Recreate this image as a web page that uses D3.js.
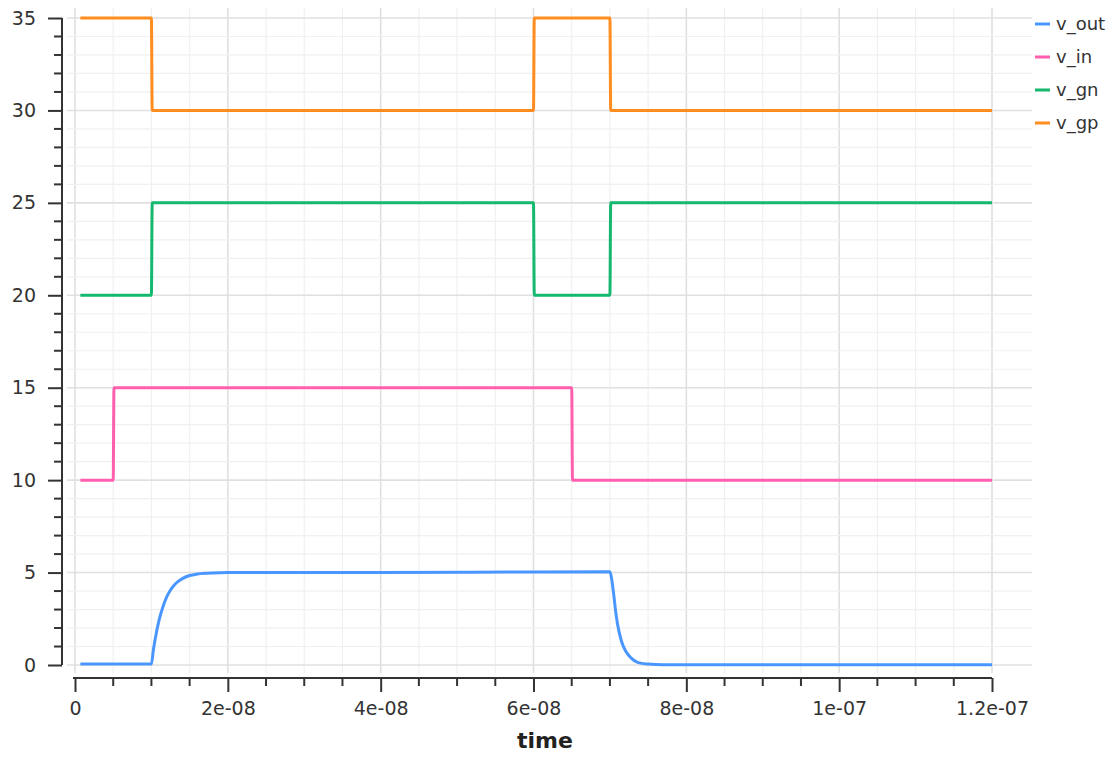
<!DOCTYPE html>
<html>
<head>
<meta charset="utf-8">
<script src="https://cdn.jsdelivr.net/npm/d3@7"></script>
<style>
  body { margin: 0; background: #fff; }
  text { font-family: "DejaVu Sans", sans-serif; fill: #333; }
</style>
</head>
<body>
<svg id="chart"></svg>
<script>
// time in ns
const seriesNames = ["v_out", "v_in", "v_gn", "v_gp"];
const seriesColors = ["#4a96ff", "#ff5fae", "#14b86e", "#ff8c1e"];

const vOutT = [0.7, 10, 10.25, 10.5, 11, 11.5, 12, 12.5, 13, 13.5, 14, 15, 16, 17, 18, 20, 40, 60, 70,
  70.25, 70.5, 70.75, 71, 71.5, 72, 72.5, 73, 73.5, 74, 75, 76, 78, 80, 120];
const vOutV = [0.05, 0.05, 0.8, 1.42, 2.43, 3.14, 3.68, 4.06, 4.33, 4.52, 4.66, 4.84, 4.92, 4.96, 4.98, 5.0, 5.01, 5.03, 5.05,
  4.6, 3.8, 2.9, 2.2, 1.3, 0.8, 0.5, 0.3, 0.17, 0.1, 0.05, 0.03, 0.02, 0.02, 0.02];

const vInT = [0.7, 5, 5.1, 65, 65.1, 120];
const vInV = [10, 10, 15, 15, 10, 10];

const vGnT = [0.7, 10, 10.1, 60, 60.1, 70, 70.1, 120];
const vGnV = [20, 20, 25, 25, 20, 20, 25, 25];

const vGpT = [0.7, 10, 10.1, 60, 60.1, 70, 70.1, 120];
const vGpV = [35, 35, 30, 30, 35, 35, 30, 30];

const xTicks = [0, 2e-8, 4e-8, 6e-8, 8e-8, 1e-7, 1.2e-7];
const xTickLabels = ["0", "2e-08", "4e-08", "6e-08", "8e-08", "1e-07", "1.2e-07"];
const yTicks = [0, 5, 10, 15, 20, 25, 30, 35];

const series = [
  { t: vOutT, v: vOutV },
  { t: vInT, v: vInV },
  { t: vGnT, v: vGnV },
  { t: vGpT, v: vGpV }
].map((s, i) => ({
  name: seriesNames[i],
  color: seriesColors[i],
  points: s.t.map((t, j) => ({ t: t * 1e-9, v: s.v[j] }))
}));

const W = 1119, H = 757;
const svg = d3.select("#chart").attr("width", W).attr("height", H);

const xscale = d3.scaleLinear().domain([0, 1.2e-7]).range([75, 992]);
const yscale = d3.scaleLinear().domain([0, 35]).range([665, 18]);

// grid
const grid = svg.append("g");
const minorX = d3.range(0, 1.2e-7 + 1e-12, 0.5e-8);
grid.selectAll("line.vx").data(minorX).join("line")
  .attr("x1", (d) => xscale(d)).attr("x2", (d) => xscale(d))
  .attr("y1", 8).attr("y2", 673)
  .attr("stroke", (d, i) => (i % 4 === 0 ? "#e0e0e0" : "#f0f0f0"))
  .attr("stroke-width", (d, i) => (i % 4 === 0 ? 1.6 : 1.2));
const minorY = d3.range(0, 36, 1);
grid.selectAll("line.hy").data(minorY).join("line")
  .attr("x1", 67).attr("x2", 1032)
  .attr("y1", (d) => yscale(d)).attr("y2", (d) => yscale(d))
  .attr("stroke", (d) => (d % 5 === 0 ? "#e0e0e0" : "#f0f0f0"))
  .attr("stroke-width", (d) => (d % 5 === 0 ? 1.6 : 1.2));

// axes
const yaxis = d3.axisLeft(yscale).tickValues(yTicks).tickSize(14).tickPadding(12).tickSizeOuter(0);
const gy = svg.append("g").attr("transform", "translate(62,0)").call(yaxis);
gy.selectAll("text").style("font-size", "19px");
gy.append("g").selectAll("line").data(minorY.filter((d) => d % 5 !== 0)).join("line")
  .attr("x1", -8).attr("x2", 0)
  .attr("y1", (d) => yscale(d)).attr("y2", (d) => yscale(d))
  .attr("stroke", "#333").attr("stroke-width", 2);

const xaxis = d3.axisBottom(xscale).tickValues(xTicks)
  .tickFormat((d, i) => xTickLabels[i]).tickSize(14).tickPadding(10).tickSizeOuter(0);
const gx = svg.append("g").attr("transform", "translate(0,678)").call(xaxis);
gx.selectAll("text").style("font-size", "19px");
gx.append("g").selectAll("line").data(minorX.filter((d, i) => i % 4 !== 0)).join("line")
  .attr("x1", (d) => xscale(d)).attr("x2", (d) => xscale(d))
  .attr("y1", 0).attr("y2", 8)
  .attr("stroke", "#333").attr("stroke-width", 2);

svg.selectAll(".domain").attr("stroke", "#333").attr("stroke-width", 2);
svg.selectAll(".tick line").attr("stroke", "#333").attr("stroke-width", 2);
gy.select(".domain").attr("d", `M0,${yscale(35)}V${yscale(0)}`);
gx.select(".domain").attr("d", `M${xscale(0) - 2},0H${xscale(1.2e-7)}`);

svg.append("text").attr("x", 545).attr("y", 748).attr("text-anchor", "middle")
  .style("font-size", "22px").style("font-weight", "bold").style("fill", "#222").text("time");

// lines
const line = d3.line().x((d) => xscale(d.t)).y((d) => yscale(d.v)).curve(d3.curveMonotoneX);
svg.append("g").selectAll("path").data(series).join("path")
  .attr("d", (d) => line(d.points))
  .attr("fill", "none")
  .attr("stroke", (d) => d.color)
  .attr("stroke-width", 3)
  .attr("stroke-linejoin", "round");

// legend
const legend = svg.append("g").selectAll("g").data(series).join("g")
  .attr("transform", (d, i) => `translate(1035,${24 + i * 33})`);
legend.append("line").attr("x1", 0).attr("x2", 15).attr("y1", 0).attr("y2", 0)
  .attr("stroke", (d) => d.color).attr("stroke-width", 3);
legend.append("text").attr("x", 21).attr("y", 6).style("font-size", "18px").text((d) => d.name);
</script>
</body>
</html>
